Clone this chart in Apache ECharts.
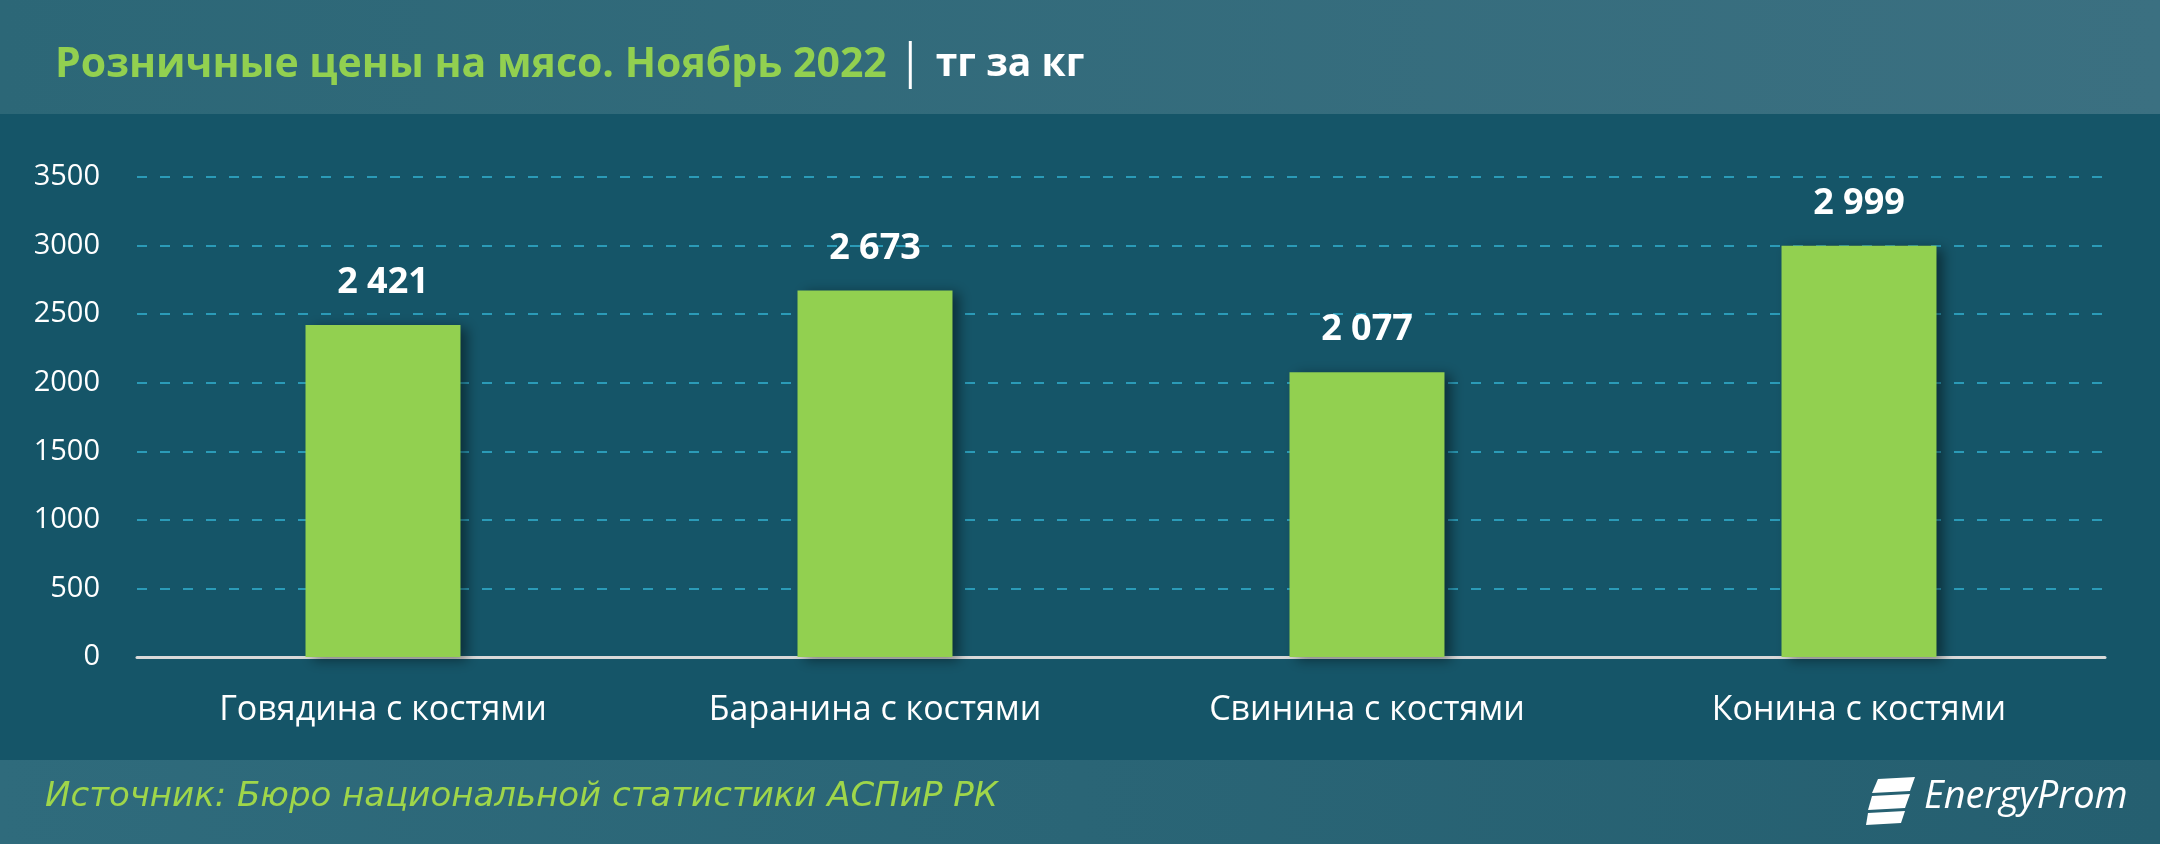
<!DOCTYPE html>
<html>
<head>
<meta charset="utf-8">
<script src="https://cdn.jsdelivr.net/npm/echarts@6/dist/echarts.min.js"></script>
<style>
html,body{margin:0;padding:0;background:#155568;}
#chart{width:2160px;height:844px;}
</style>
</head>
<body>
<div id="chart"></div>
<script>
const titleText = 'Розничные цены на мясо. Ноябрь 2022';
const unitText = 'тг за кг';
const sourceText = 'Источник: Бюро национальной статистики АСПиР РК';
const brandText = 'EnergyProm';
const categories = ['Говядина с костями', 'Баранина с костями', 'Свинина с костями', 'Конина с костями'];
const values = [2421, 2673, 2077, 2999];
const yMin = 0, yMax = 3500, yStep = 500;

function fmt(v) { return String(v).replace(/\B(?=(\d{3})+(?!\d))/g, ' '); }

const chart = echarts.init(document.getElementById('chart'), null, {renderer: 'canvas'});
chart.setOption({
  backgroundColor: '#155568',
  animation: false,
  graphic: [
    {type: 'rect', z: -10, shape: {x: 0, y: 0, width: 2160, height: 114},
     style: {fill: new echarts.graphic.LinearGradient(0, 0, 1, 0, [{offset: 0, color: '#2c6777'}, {offset: 1, color: '#3b7081'}])}},
    {type: 'rect', z: -10, shape: {x: 0, y: 760, width: 2160, height: 84},
     style: {fill: new echarts.graphic.LinearGradient(0, 0, 1, 0, [{offset: 0, color: '#2f6b7c'}, {offset: 1, color: '#255f70'}])}},
    {type: 'text', left: 45, top: 780,
     style: {text: sourceText, fill: '#9fd64a', font: 'italic 34px "DejaVu Sans"'}},
    {type: 'polygon', shape: {points: [[1878,779],[1915,777],[1910,791],[1872,793]]}, style: {fill: '#ffffff'}},
    {type: 'polygon', shape: {points: [[1872,796],[1910,794],[1905,808],[1868,810]]}, style: {fill: '#ffffff'}},
    {type: 'polygon', shape: {points: [[1868,813],[1905,811],[1901,823],[1866,825]]}, style: {fill: '#ffffff'}},
    {type: 'text', left: 1924, top: 778,
     style: {text: brandText, fill: '#ffffff', font: 'italic 38px "Open Sans"'}}
  ],
  title: {
    left: 50, top: 36,
    text: '{g|' + titleText + '}{s| }{w|' + unitText + '}',
    textStyle: {
      rich: {
        g: {color: '#92d050', fontFamily: 'Open Sans', fontWeight: 'bold', fontSize: 41, padding: [0, 22, 0, 0]},
        s: {width: 3, height: 48, backgroundColor: '#ffffff', padding: 0},
        w: {color: '#ffffff', fontFamily: 'Open Sans', fontWeight: 'bold', fontSize: 39, padding: [0, 0, 0, 24]}
      }
    }
  },
  grid: {left: 137, right: 55, top: 177, bottom: 187, containLabel: false},
  xAxis: {
    type: 'category',
    data: categories,
    axisLine: {show: true, lineStyle: {color: '#d9d9d9', width: 3}},
    axisTick: {show: false},
    axisLabel: {color: '#ffffff', fontFamily: 'Open Sans', fontSize: 34, margin: 36}
  },
  yAxis: {
    type: 'value',
    min: yMin, max: yMax, interval: yStep,
    axisLine: {show: false},
    axisTick: {show: false},
    axisLabel: {color: '#ffffff', fontFamily: 'Open Sans', fontSize: 29, margin: 37, formatter: v => String(v)},
    splitLine: {lineStyle: {color: '#2b9bb8', width: 2, type: [10, 13]}}
  },
  series: [{
    type: 'bar',
    data: values,
    barWidth: '31.5%',
    itemStyle: {color: '#92d050', shadowColor: 'rgba(0,0,0,0.45)', shadowBlur: 12, shadowOffsetX: 7, shadowOffsetY: 3},
    label: {
      show: true, position: 'top', distance: 24,
      formatter: p => fmt(p.value),
      color: '#ffffff', fontFamily: 'Open Sans', fontWeight: 'bold', fontSize: 36
    }
  }]
});
</script>
</body>
</html>
